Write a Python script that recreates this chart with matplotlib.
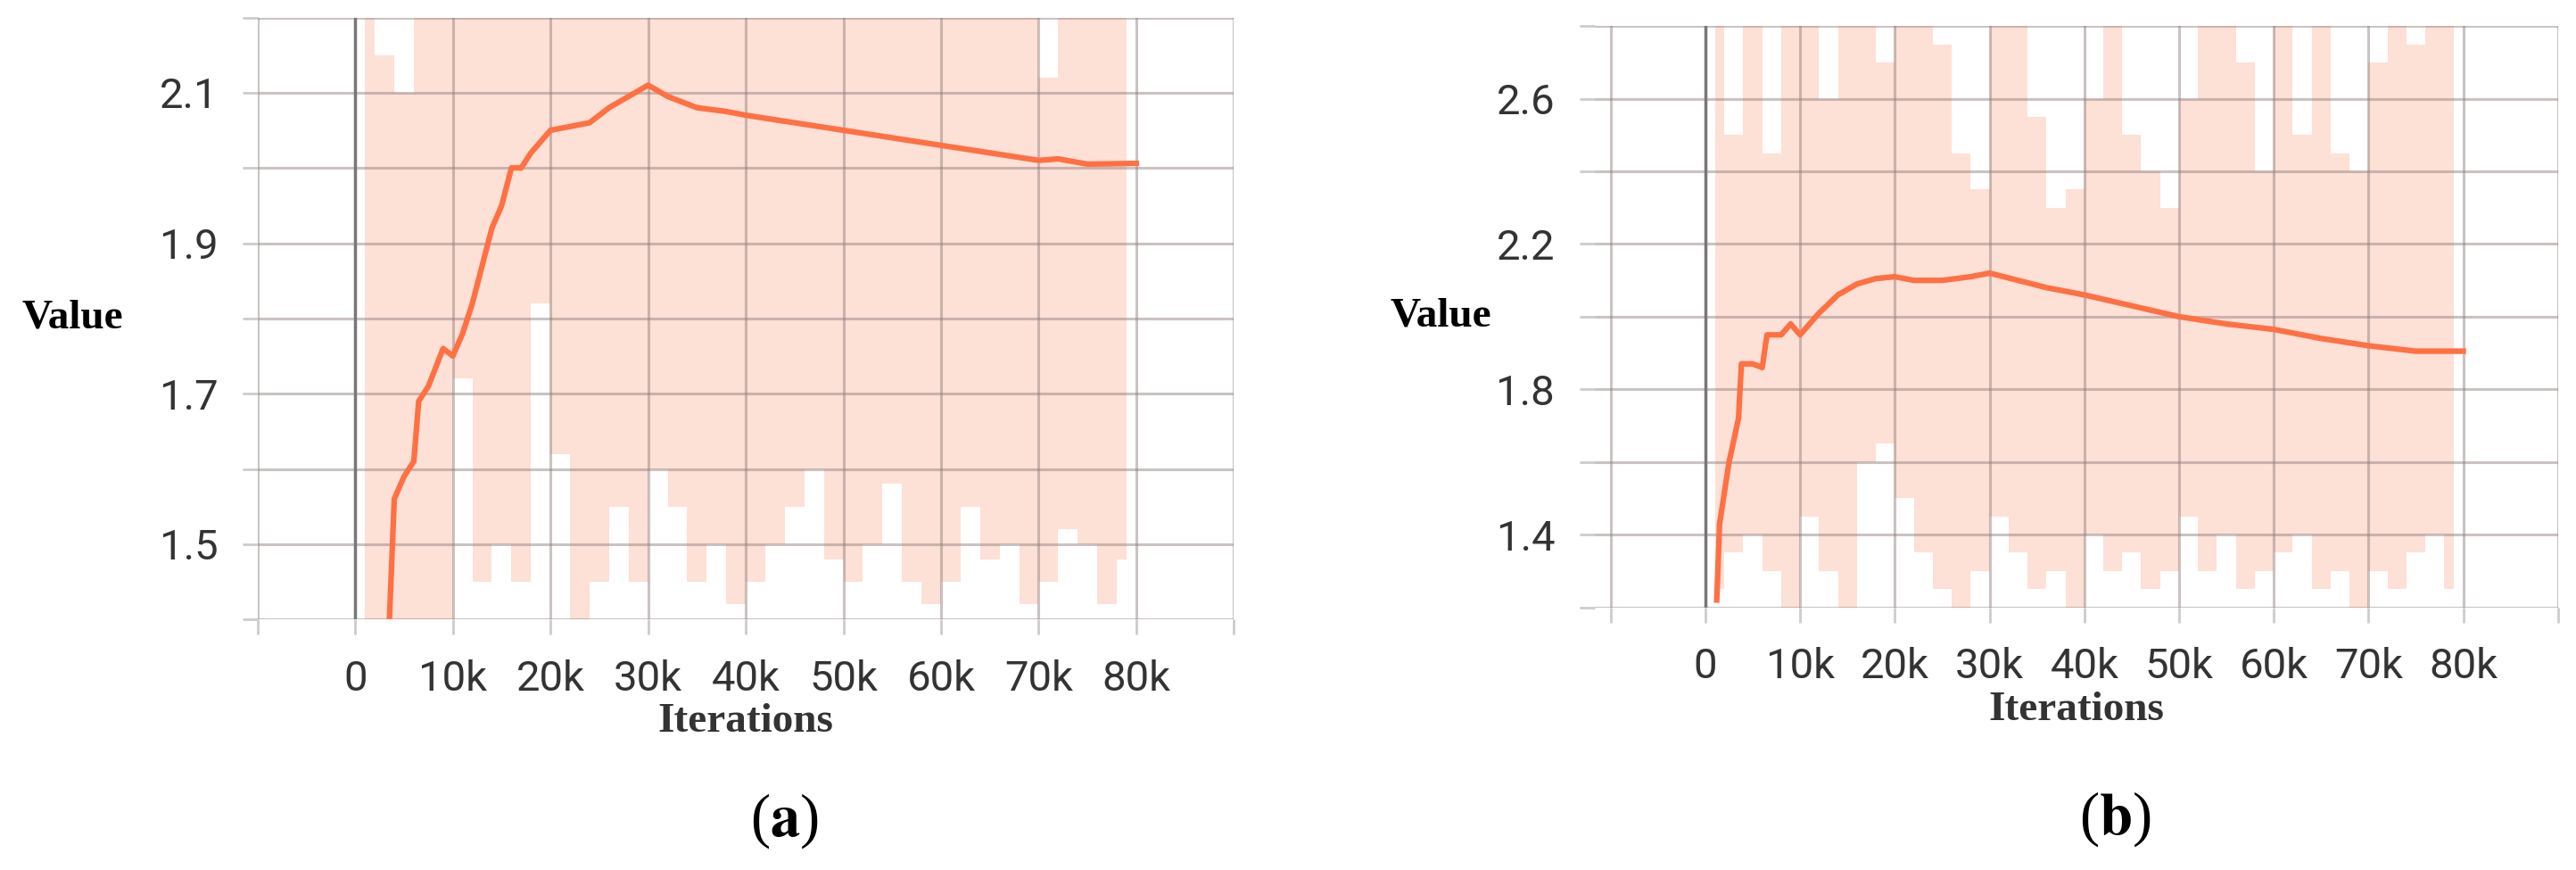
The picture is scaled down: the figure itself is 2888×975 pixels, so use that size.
import matplotlib
matplotlib.use('Agg')
import matplotlib.pyplot as plt
import numpy as np

plt.rcParams['mathtext.fontset'] = 'stix'

# smoothed curves, x in iterations (k)
xa = [3.5, 4, 5, 6, 6.5, 7.5, 9, 10, 11, 12, 13, 14, 15, 16, 17, 18, 20, 22, 24, 26, 28, 30,
      32, 35, 38, 40, 45, 50, 55, 60, 65, 70, 72, 75, 80]
ya = [1.40, 1.56, 1.59, 1.61, 1.69, 1.71, 1.76, 1.75, 1.78, 1.82, 1.87, 1.92, 1.95, 2.00, 2.00,
      2.02, 2.05, 2.055, 2.06, 2.08, 2.095, 2.11, 2.095, 2.08, 2.075, 2.07, 2.06, 2.05, 2.04,
      2.03, 2.02, 2.01, 2.012, 2.005, 2.006]
xb = [1.2, 1.5, 2.5, 3.5, 3.8, 5, 6, 6.5, 8, 9, 10, 12, 14, 16, 18, 20, 22, 25, 28, 30, 33, 36,
      40, 45, 50, 55, 60, 65, 70, 75, 80]
yb = [1.22, 1.43, 1.60, 1.72, 1.87, 1.87, 1.86, 1.95, 1.95, 1.98, 1.95, 2.01, 2.06, 2.09, 2.105,
      2.11, 2.10, 2.10, 2.11, 2.12, 2.10, 2.08, 2.06, 2.03, 2.00, 1.98, 1.965, 1.94, 1.92, 1.905,
      1.905]

# raw (unsmoothed) envelope per 2k bin: lower / upper reach
raw_x = list(range(1, 80, 2))
raw_lo_a = [1.4, 1.4, 1.4, 1.4, 1.4, 1.72, 1.45, 1.5, 1.45, 1.82, 1.62, 1.4, 1.45, 1.55, 1.45,
            1.6, 1.55, 1.45, 1.5, 1.42, 1.45, 1.5, 1.55, 1.6, 1.48, 1.45, 1.5, 1.58, 1.45, 1.42,
            1.45, 1.55, 1.48, 1.5, 1.42, 1.45, 1.52, 1.5, 1.42, 1.48]
raw_hi_a = [2.2, 2.15, 2.1, 2.2, 2.2, 2.2, 2.2, 2.2, 2.2, 2.2, 2.2, 2.2, 2.2, 2.2, 2.2, 2.2, 2.2,
            2.2, 2.2, 2.2, 2.2, 2.2, 2.2, 2.2, 2.2, 2.2, 2.2, 2.2, 2.2, 2.2, 2.2, 2.2, 2.2, 2.2,
            2.2, 2.12, 2.2, 2.2, 2.2, 2.2]
raw_lo_b = [1.25, 1.35, 1.4, 1.3, 1.2, 1.45, 1.3, 1.2, 1.6, 1.65, 1.5, 1.35, 1.25, 1.2, 1.3,
            1.45, 1.35, 1.25, 1.3, 1.2, 1.4, 1.3, 1.35, 1.25, 1.3, 1.45, 1.3, 1.4, 1.25, 1.3,
            1.35, 1.4, 1.25, 1.3, 1.2, 1.3, 1.25, 1.35, 1.4, 1.25]
raw_hi_b = [2.8, 2.5, 2.8, 2.45, 2.8, 2.8, 2.6, 2.8, 2.8, 2.7, 2.8, 2.8, 2.75, 2.45, 2.35, 2.8,
            2.8, 2.55, 2.3, 2.35, 2.6, 2.8, 2.5, 2.4, 2.3, 2.6, 2.8, 2.8, 2.7, 2.4, 2.8, 2.5, 2.8,
            2.45, 2.4, 2.7, 2.8, 2.75, 2.8, 2.8]

xticks = [0, 10, 20, 30, 40, 50, 60, 70, 80]
xticklabels = ['0', '10k', '20k', '30k', '40k', '50k', '60k', '70k', '80k']

fig = plt.figure(figsize=(28.88, 9.75), dpi=100)


def panel(rect, x, y, lo, hi, xlim, ylim, ystep, ylabels, letter, lab_x, let_y):
    ax = fig.add_axes(rect)
    ax.fill_between(raw_x, lo, hi, step='mid', color='#fde0d6', lw=0, zorder=1)
    ax.plot(x, y, color='#ff7043', lw=4.5, zorder=4)
    ax.set_xlim(*xlim)
    ax.set_ylim(*ylim)
    ax.set_xticks(np.arange(-10, 91, 10), minor=True)
    ax.set_xticks(xticks)
    ax.set_xticklabels(xticklabels, family='Roboto', size=34, color='#333333')
    ax.set_yticks(np.arange(ylim[0], ylim[1] + 1e-9, ystep), minor=True)
    ax.set_yticks(ylabels)
    ax.set_yticklabels(['%.1f' % v for v in ylabels], family='Roboto', size=34, color='#333333')
    ax.grid(True, which='both', color='#8a7b78', alpha=0.45, lw=2.2, zorder=2)
    ax.set_axisbelow(False)
    ax.axvline(0, color='#777777', lw=2.5, zorder=3)
    for s in ax.spines.values():
        s.set_visible(False)
    ax.tick_params(which='both', length=12, width=2, color='#cccccc', pad=20)
    ax.set_xlabel('Iterations', family='Liberation Serif', weight='bold', size=34,
                  color='#333333', labelpad=4)
    ax.text(lab_x, 0.5, 'Value', transform=ax.transAxes, family='Liberation Serif',
            weight='bold', size=34, ha='center', va='center')
    ax.text(0.54, let_y, '(' + r'$\mathbf{' + letter + '}$' + ')', transform=ax.transAxes,
            family='Liberation Serif', size=48, ha='center', va='center')
    return ax


panel([0.100, 0.288, 0.379, 0.692], xa, ya, raw_lo_a, raw_hi_a, (-10, 90), (1.4, 2.2), 0.1,
      [1.5, 1.7, 1.9, 2.1], 'a', -0.19, -0.335)
panel([0.619, 0.302, 0.374, 0.668], xb, yb, raw_lo_b, raw_hi_b, (-11.7, 90), (1.2, 2.8), 0.2,
      [1.4, 1.8, 2.2, 2.6], 'b', -0.16, -0.365)

fig.savefig('out.png', dpi=100)
